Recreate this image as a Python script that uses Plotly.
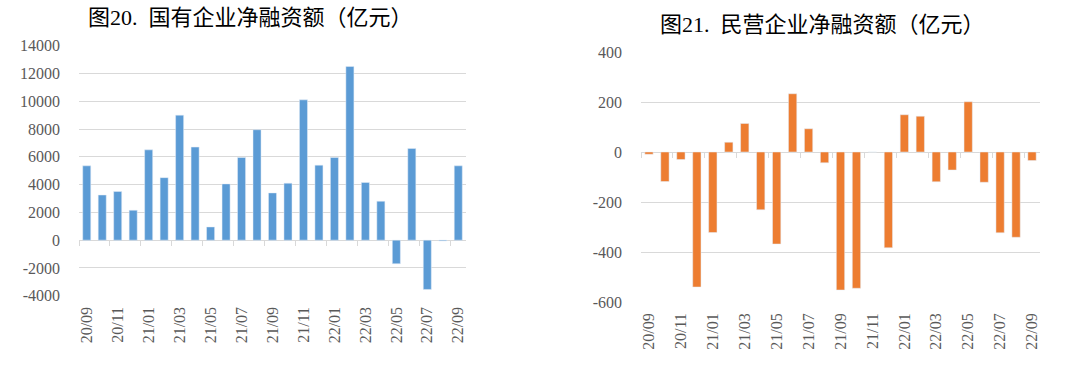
import plotly.graph_objects as go

months = ["20/09", "20/10", "20/11", "20/12", "21/01", "21/02", "21/03", "21/04", "21/05",
          "21/06", "21/07", "21/08", "21/09", "21/10", "21/11", "21/12", "22/01", "22/02",
          "22/03", "22/04", "22/05", "22/06", "22/07", "22/08", "22/09"]

soe_net = [5350, 3250, 3500, 2150, 6500, 4500, 9000, 6700, 950, 4050, 5950, 7950, 3400,
           4100, 10100, 5400, 5950, 12500, 4150, 2800, -1700, 6600, -3550, -60, 5350]

private_net = [-9, -118, -30, -540, -322, 39, 114, -231, -368, 233, 93, -43, -552, -545,
               0, -383, 149, 143, -119, -72, 201, -121, -323, -341, -34]

left_ytick_vals = [-4000, -2000, 0, 2000, 4000, 6000, 8000, 10000, 12000, 14000]
left_ytick_text = ["-4000", "-2000", "0", "2000", "4000", "6000", "8000", "10000", "12000", "14000"]
right_ytick_vals = [-600, -400, -200, 0, 200, 400]
right_ytick_text = ["-600", "-400", "-200", "0", "200", "400"]

left_title = "图20.  国有企业净融资额（亿元）"
right_title = "图21.  民营企业净融资额（亿元）"

left_range = [-4000, 14000]
right_range = [-600, 400]

W, H = 1080, 370
# pixel layout of plot areas
L_x = [79 / W, 466 / W]
L_y = [1 - 295.7 / H, 1 - 45.7 / H]
R_x = [641 / W, 1040 / W]
R_y = [1 - 302 / H, 1 - 52 / H]

BLUE = "#5B9BD5"
ORANGE = "#ED7D31"
GRID = "#D9D9D9"
TXT = "#595959"
SERIF = "Liberation Serif"
TITLE_FONT = "Liberation Serif, Noto Sans CJK SC"


def zero_pos(dom, rng):
    return dom[0] + (0 - rng[0]) / (rng[1] - rng[0]) * (dom[1] - dom[0])


fig = go.Figure()

fig.add_trace(go.Bar(x=months, y=soe_net, marker_color=BLUE, xaxis="x", yaxis="y",
                     showlegend=False))
fig.add_trace(go.Scatter(x=months, y=soe_net, mode="markers", marker_opacity=0,
                         xaxis="x3", yaxis="y", showlegend=False, hoverinfo="skip"))
fig.add_trace(go.Bar(x=months, y=private_net, marker_color=ORANGE, xaxis="x2", yaxis="y2",
                     showlegend=False))
fig.add_trace(go.Scatter(x=months, y=private_net, mode="markers", marker_opacity=0,
                         xaxis="x4", yaxis="y2", showlegend=False, hoverinfo="skip"))

label_axis = dict(type="category", tickmode="linear", tick0=0, dtick=2, tickangle=-90,
                  showgrid=False, showline=False, ticks="", zeroline=False, automargin=False,
                  tickfont=dict(family=SERIF, size=16, color=TXT), ticklabelstandoff=7)
zero_axis = dict(type="category", tickmode="linear", tick0=0, dtick=2, tickson="boundaries",
                 showticklabels=False, showgrid=False, zeroline=False, showline=True,
                 linecolor=GRID, linewidth=1, ticks="outside", ticklen=5, tickcolor=GRID,
                 anchor="free", layer="below traces", automargin=False)
y_axis = dict(showgrid=True, gridcolor=GRID, gridwidth=1, zeroline=False, showline=False,
              tickmode="array", automargin=False,
              tickfont=dict(family=SERIF, size=16, color=TXT), ticklabelstandoff=18)

fig.update_layout(
    width=W, height=H,
    margin=dict(l=0, r=0, t=0, b=0),
    paper_bgcolor="white", plot_bgcolor="white",
    bargap=0.48,
    xaxis=dict(domain=L_x, anchor="y", range=[-0.5, 24.5], **label_axis),
    xaxis3=dict(overlaying="x", range=[-0.5, 24.5],
                position=zero_pos(L_y, left_range), **zero_axis),
    yaxis=dict(domain=L_y, anchor="x", range=left_range, tickvals=left_ytick_vals,
               ticktext=left_ytick_text, **y_axis),
    xaxis2=dict(domain=R_x, anchor="y2", range=[-0.5, 24.5], **label_axis),
    xaxis4=dict(overlaying="x2", range=[-0.5, 24.5],
                position=zero_pos(R_y, right_range), **zero_axis),
    yaxis2=dict(domain=R_y, anchor="x2", range=right_range, tickvals=right_ytick_vals,
                ticktext=right_ytick_text, **y_axis),
    annotations=[
        dict(text=left_title, xref="paper", yref="paper", x=250 / W, y=1 - 18 / H,
             xanchor="center", yanchor="middle", showarrow=False,
             font=dict(family=TITLE_FONT, size=22, color="#000000")),
        dict(text=right_title, xref="paper", yref="paper", x=822 / W, y=1 - 25 / H,
             xanchor="center", yanchor="middle", showarrow=False,
             font=dict(family=TITLE_FONT, size=22, color="#000000")),
    ],
)

fig.write_html("out.html", config={"displayModeBar": False},
               post_script="document.body.style.margin='0';document.body.style.overflow='hidden';")
